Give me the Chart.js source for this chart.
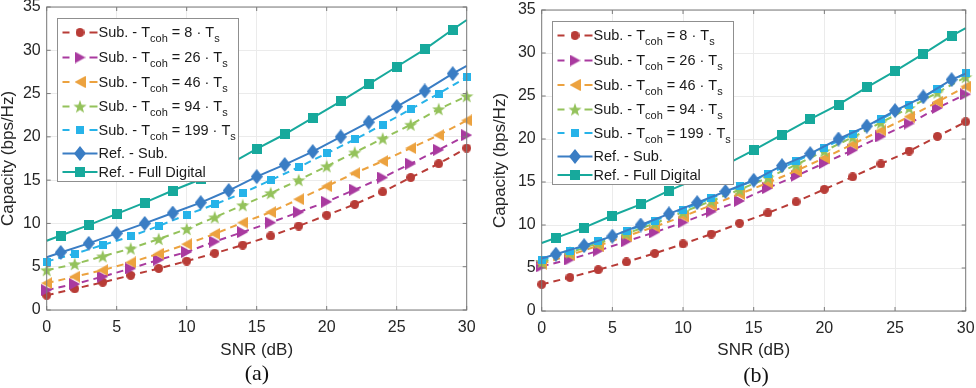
<!DOCTYPE html>
<html>
<head>
<meta charset="utf-8">
<script src="https://cdn.jsdelivr.net/npm/chart.js@4.4.1/dist/chart.umd.min.js"></script>
<style>
    body { margin: 0; background: #fff; width: 976px; height: 388px; position: relative; overflow: hidden; }
    .panel { position: absolute; top: 0; width: 488px; height: 388px; }
    .caption { position: absolute; width: 100px; text-align: center; font-family: "Liberation Serif", serif; font-size: 22px; line-height: 24px; color: #111; }
</style>
</head>
<body>
<div class="panel" style="left:0"><canvas id="chartA" width="488" height="388"></canvas></div>
<div class="panel" style="left:488px"><canvas id="chartB" width="488" height="388"></canvas></div>
<div class="caption" style="left:207px; top:361px">(a)</div>
<div class="caption" style="left:706px; top:363px">(b)</div>
<script>
// SNR points (dB): dashed curves carry markers at even SNR, solid ones at odd SNR
const snrEven = [0, 2, 4, 6, 8, 10, 12, 14, 16, 18, 20, 22, 24, 26, 28, 30];
const snrOdd = [0, 1, 3, 5, 7, 9, 11, 13, 15, 17, 19, 21, 23, 25, 27, 29, 30];
const xMin = 0, xMax = 30, xStep = 5;
const yMin = 0, yMax = 35, yStep = 5;

// coherence times (in symbol periods)
const tcoh = [8, 26, 46, 94, 199];
const refNames = ['Ref. - Sub.', 'Ref. - Full Digital'];

// panel (a)
const subA8 = [1.7, 2.45, 3.2, 4.0, 4.8, 5.65, 6.55, 7.5, 8.55, 9.7, 10.95, 12.2, 13.65, 15.3, 16.9, 18.7];
const subA26 = [2.3, 3.0, 3.85, 4.8, 5.8, 6.7, 7.9, 9.0, 10.1, 11.3, 12.5, 13.9, 15.3, 16.9, 18.5, 20.2];
const subA46 = [3.1, 3.85, 4.6, 5.5, 6.5, 7.6, 8.8, 10.1, 11.3, 12.8, 14.3, 15.8, 17.2, 18.7, 20.2, 21.9];
const subA94 = [4.6, 5.3, 6.2, 7.1, 8.2, 9.35, 10.7, 12.1, 13.5, 15.0, 16.6, 18.2, 19.8, 21.4, 23.2, 24.7];
const subA199 = [5.6, 6.5, 7.5, 8.5, 9.7, 11.0, 12.2, 13.5, 15.0, 16.5, 18.1, 19.7, 21.4, 23.2, 25.0, 26.9];
const refA = [6.1, 6.65, 7.7, 8.85, 10.0, 11.2, 12.4, 13.8, 15.4, 16.8, 18.3, 20.0, 21.7, 23.5, 25.3, 27.3, 28.2];
const fullA = [8.0, 8.6, 9.8, 11.1, 12.4, 13.8, 15.1, 16.8, 18.6, 20.3, 22.2, 24.1, 26.1, 28.1, 30.1, 32.4, 33.5];

// panel (b)
const subB8 = [3.1, 3.9, 4.8, 5.7, 6.7, 7.8, 8.95, 10.2, 11.4, 12.7, 14.15, 15.6, 17.1, 18.6, 20.3, 22.0];
const subB26 = [5.2, 6.0, 7.0, 8.1, 9.15, 10.3, 11.55, 12.8, 14.3, 15.7, 17.2, 18.7, 20.3, 21.8, 23.6, 25.2];
const subB46 = [5.5, 6.5, 7.6, 8.7, 9.8, 11.0, 12.3, 13.6, 14.9, 16.3, 17.8, 19.4, 21.0, 22.6, 24.3, 26.1];
const subB94 = [5.7, 6.8, 7.9, 9.0, 10.2, 11.5, 12.8, 14.1, 15.5, 17.0, 18.6, 20.2, 21.9, 23.6, 25.4, 27.2];
const subB199 = [5.9, 7.0, 8.1, 9.3, 10.5, 11.8, 13.1, 14.5, 15.9, 17.4, 19.0, 20.6, 22.3, 24.0, 25.8, 27.7];
const refB = [6.1, 6.6, 7.6, 8.7, 10.0, 11.3, 12.6, 13.9, 15.2, 16.9, 18.3, 20.0, 21.5, 23.3, 24.9, 26.9, 27.6];
const fullB = [7.9, 8.5, 9.7, 11.1, 12.4, 14.0, 15.4, 17.0, 18.7, 20.5, 22.3, 24.0, 26.0, 27.9, 29.9, 32.0, 32.9];

const COLORS = ['#b83c37', '#a93a9f', '#eca23f', '#94c25b', '#27b3e9', '#3a7dc4', '#17a99c'];
const FONT = '"Liberation Sans", Arial, sans-serif';
const TEXT = '#262626';

// filled marker images (Chart.js has no filled pentagram / side triangles)
function markerCanvas(shape, color, w, h) {
    const c = document.createElement('canvas');
    c.width = w;
    c.height = h;
    const g = c.getContext('2d');
    const cx = w / 2, cy = h / 2;
    g.fillStyle = color;
    g.beginPath();
    if (shape === 'circle') {
        g.arc(cx, cy, w / 2, 0, Math.PI * 2);
    } else if (shape === 'triRight') {
        g.moveTo(0, 0); g.lineTo(w, cy); g.lineTo(0, h);
    } else if (shape === 'triLeft') {
        g.moveTo(w, 0); g.lineTo(0, cy); g.lineTo(w, h);
    } else if (shape === 'star') {
        const ro = w / 2, ri = ro * 0.4;
        for (let i = 0; i < 10; i++) {
            const r = i % 2 ? ri : ro;
            const a = -Math.PI / 2 + i * Math.PI / 5;
            g.lineTo(cx + r * Math.cos(a), cy + 0.6 + r * Math.sin(a));
        }
    } else if (shape === 'square') {
        g.rect(0, 0, w, h);
    } else if (shape === 'diamond') {
        g.moveTo(cx, 0); g.lineTo(w, cy); g.lineTo(cx, h); g.lineTo(0, cy);
    }
    g.closePath();
    g.fill();
    return c;
}

const markers = [
    markerCanvas('circle', COLORS[0], 9, 9),
    markerCanvas('triRight', COLORS[1], 11, 12),
    markerCanvas('triLeft', COLORS[2], 11, 12),
    markerCanvas('star', COLORS[3], 14, 14),
    markerCanvas('square', COLORS[4], 8, 8),
    markerCanvas('diamond', COLORS[5], 12, 15),
    markerCanvas('square', COLORS[6], 10, 10)
];

// legend text pieces: [text, isSubscript]
const legendParts = tcoh.map(t => [['Sub. - T', 0], ['coh', 1], [' = ' + t + ' \u00b7 T', 0], ['s', 1]])
    .concat(refNames.map(n => [[n, 0]]));

function line(label, xs, ys, idx, dashed) {
    return {
        label: label,
        data: xs.map((x, k) => ({ x: x, y: ys[k] })),
        borderColor: COLORS[idx],
        backgroundColor: COLORS[idx],
        borderWidth: 2,
        borderDash: dashed ? [7, 5] : [],
        pointStyle: markers[idx],
        // solid curves: no marker on the end points
        pointRadius: dashed ? 5 : (c => (c.dataIndex === 0 || c.dataIndex === xs.length - 1) ? 0 : 5),
        pointHoverRadius: 5,
        tension: 0,
        fill: false,
        clip: false,
        order: 6 - idx
    };
}

function buildDatasets(subs, ref, full) {
    const sets = subs.map((ys, i) => line('Sub. - Tcoh = ' + tcoh[i] + ' \u00b7 Ts', snrEven, ys, i, true));
    sets.push(line(refNames[0], snrOdd, ref, 5, false));
    sets.push(line(refNames[1], snrOdd, full, 6, false));
    return sets;
}

// axes box, inward ticks and the legend (with subscripts)
const framePlugin = {
    id: 'frame',
    afterDatasetsDraw(chart) {
        const { ctx, chartArea: a, scales: { x, y } } = chart;
        ctx.save();
        ctx.strokeStyle = '#7a7a7a';
        ctx.lineWidth = 1;
        ctx.setLineDash([]);
        ctx.strokeRect(a.left, a.top, a.right - a.left, a.bottom - a.top);
        ctx.beginPath();
        x.ticks.forEach(t => {
            const px = x.getPixelForValue(t.value);
            ctx.moveTo(px, a.bottom); ctx.lineTo(px, a.bottom - 4);
            ctx.moveTo(px, a.top); ctx.lineTo(px, a.top + 4);
        });
        y.ticks.forEach(t => {
            const py = y.getPixelForValue(t.value);
            ctx.moveTo(a.left, py); ctx.lineTo(a.left + 4, py);
            ctx.moveTo(a.right, py); ctx.lineTo(a.right - 4, py);
        });
        ctx.stroke();

        // legend
        const rowY = [14, 39, 63.5, 88, 111.5, 135, 153.5];
        const bx = Math.round(a.left + 10.5) + 0.5, by = Math.round(a.top + 10.5) + 0.5;
        const bw = 181, bh = 163;
        ctx.fillStyle = '#fff';
        ctx.fillRect(bx, by, bw, bh);
        ctx.strokeStyle = '#8f8f8f';
        ctx.strokeRect(bx, by, bw, bh);
        chart.data.datasets.forEach((ds, i) => {
            const ly = by + rowY[i];
            ctx.strokeStyle = ds.borderColor;
            ctx.lineWidth = 2;
            ctx.setLineDash(ds.borderDash.length ? [7, 20, 8] : []);
            ctx.beginPath();
            ctx.moveTo(bx + 5, ly);
            ctx.lineTo(bx + 40, ly);
            ctx.stroke();
            ctx.setLineDash([]);
            const m = ds.pointStyle;
            ctx.drawImage(m, bx + 22.5 - m.width / 2, ly - m.height / 2);
            let tx = bx + 41;
            ctx.fillStyle = '#1a1a1a';
            ctx.textBaseline = 'alphabetic';
            legendParts[i].forEach(([txt, sub]) => {
                ctx.font = (sub ? '11px ' : '14.5px ') + FONT;
                ctx.fillText(txt, tx, ly + (sub ? 9.5 : 4.5));
                tx += ctx.measureText(txt).width;
            });
        });
        ctx.restore();
    }
};

function makeChart(id, datasets, pad, yWidth, xHeight, yTitlePad) {
    return new Chart(document.getElementById(id), {
        type: 'line',
        data: { datasets: datasets },
        plugins: [framePlugin],
        options: {
            responsive: false,
            animation: false,
            devicePixelRatio: 1,
            layout: { padding: pad },
            plugins: { legend: { display: false }, tooltip: { enabled: false } },
            scales: {
                x: {
                    type: 'linear',
                    min: xMin,
                    max: xMax,
                    ticks: { stepSize: xStep, padding: 8, color: TEXT, font: { family: FONT, size: 16 }, maxRotation: 0 },
                    grid: { color: '#ebebeb', drawTicks: false },
                    border: { display: false },
                    title: { display: true, text: 'SNR (dB)', color: TEXT, font: { family: FONT, size: 17, lineHeight: 1.2 }, padding: { top: 0, bottom: 27 } },
                    afterFit(s) { s.height = xHeight; s.paddingLeft = 0; s.paddingRight = 0; }
                },
                y: {
                    min: yMin,
                    max: yMax,
                    ticks: { stepSize: yStep, padding: 6, color: TEXT, font: { family: FONT, size: 16 } },
                    grid: { color: '#ebebeb', drawTicks: false },
                    border: { display: false },
                    title: { display: true, text: 'Capacity (bps/Hz)', color: TEXT, font: { family: FONT, size: 17, lineHeight: 1 }, padding: { top: yTitlePad, bottom: 0 } },
                    afterFit(s) { s.width = yWidth; s.paddingTop = 0; s.paddingBottom = 0; }
                }
            }
        }
    });
}

makeChart('chartA', buildDatasets([subA8, subA26, subA46, subA94, subA199], refA, fullA),
    { left: 0, right: 21.3, top: 6.7, bottom: 0 }, 46.7, 78, 0);
makeChart('chartB', buildDatasets([subB8, subB26, subB46, subB94, subB199], refB, fullB),
    { left: 0, right: 10.3, top: 10, bottom: 0 }, 53.7, 77, 3.5);
</script>
</body>
</html>
